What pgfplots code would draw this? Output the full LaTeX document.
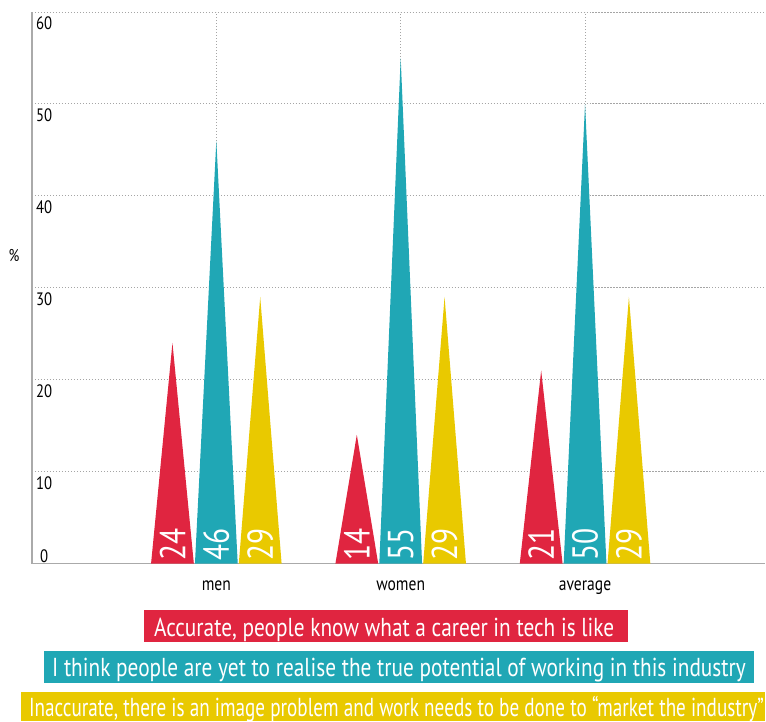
\documentclass[border=0pt]{standalone}
\usepackage{pgfplots}
\pgfplotsset{compat=1.18}
\usepackage{fontspec}
\setmainfont{PT Sans}[FakeStretch=0.82]
\definecolor{cred}{RGB}{224,37,64}
\definecolor{cteal}{RGB}{32,167,181}
\definecolor{cyellow}{RGB}{233,201,0}
\definecolor{cgrid}{RGB}{165,165,165}
\definecolor{caxis}{RGB}{170,170,170}

\begin{document}
\begin{tikzpicture}[x=1pt,y=1pt]
\begin{axis}[
  name=ax,
  scale only axis, width=734pt, height=552pt,
  xmin=-1, xmax=2.978, ymin=0, ymax=60,
  axis x line*=bottom, axis y line*=left,
  axis line style={caxis, line width=1.3pt, -},
  major tick length=0pt,
  xtick={0,1,2}, xticklabels={men,women,average},
  ytick={10,20,30,40,50,60},
  extra y ticks={0},
  extra y tick style={
    yticklabel style={anchor=south west, xshift=4pt, yshift=5pt},
    grid=none},
  xmajorgrids, ymajorgrids,
  grid style={cgrid, line width=0.9pt, dash pattern=on 1.1pt off 1.9pt},
  /pgf/number format/assume math mode=true,
  yticklabel style={anchor=north west, inner sep=0pt, xshift=4pt, yshift=-4.5pt,
    font=\fontsize{18}{20}\selectfont},
  xticklabel style={anchor=base, inner sep=0pt, yshift=-27pt,
    font=\fontsize{19}{22}\selectfont},
  ylabel={\%},
  every axis y label/.style={at={(axis description cs:-0.0245,0.558)},
    anchor=center, font=\fontsize{17}{20}\selectfont},
]
% accurate
\addplot[fill=cred, draw=none] coordinates {(-0.354,0) (-0.238,24) (-0.122,0)} \closedcycle;
\addplot[fill=cred, draw=none] coordinates {(0.646,0) (0.762,14) (0.878,0)} \closedcycle;
\addplot[fill=cred, draw=none] coordinates {(1.646,0) (1.762,21) (1.878,0)} \closedcycle;
% true potential
\addplot[fill=cteal, draw=none] coordinates {(-0.116,0) (0,46) (0.116,0)} \closedcycle;
\addplot[fill=cteal, draw=none] coordinates {(0.884,0) (1,55) (1.116,0)} \closedcycle;
\addplot[fill=cteal, draw=none] coordinates {(1.884,0) (2,50) (2.116,0)} \closedcycle;
% inaccurate
\addplot[fill=cyellow, draw=none] coordinates {(0.122,0) (0.238,29) (0.354,0)} \closedcycle;
\addplot[fill=cyellow, draw=none] coordinates {(1.122,0) (1.238,29) (1.354,0)} \closedcycle;
\addplot[fill=cyellow, draw=none] coordinates {(2.122,0) (2.238,29) (2.354,0)} \closedcycle;
% value labels
\tikzset{vlab/.style={rotate=90, anchor=west, text=white, inner xsep=3pt, inner ysep=0pt,
  font=\fontsize{36}{36}\selectfont}}
\node[vlab] at (axis cs:-0.238,0) {24};
\node[vlab] at (axis cs:0,0) {46};
\node[vlab] at (axis cs:0.238,0) {29};
\node[vlab] at (axis cs:0.762,0) {14};
\node[vlab] at (axis cs:1,0) {55};
\node[vlab] at (axis cs:1.238,0) {29};
\node[vlab] at (axis cs:1.762,0) {21};
\node[vlab] at (axis cs:2,0) {50};
\node[vlab] at (axis cs:2.238,0) {29};
\end{axis}
% page frame and legend, measured from the lower left corner of the page
\begin{scope}[shift={(ax.south west)}, xshift=-32pt, yshift=-158pt]
\path (0,0) rectangle (766,722);
\tikzset{leg/.style={anchor=base west, inner sep=0pt, text=white,
  font=\fontsize{26}{30}\selectfont}}
\fill[cred] (144,79) rectangle (629,111);
\node[leg] at (154,85) {Accurate, people know what a career in tech is like};
\fill[cteal] (44,38) rectangle (755,70);
\node[leg] at (52,45) {I think people are yet to realise the true potential of working in this industry};
\fill[cyellow] (21,0) rectangle (766,29);
\begin{scope}
\clip (0,0) rectangle (766,722);
\node[leg, overlay, xscale=0.9] at (29,5)
  {Inaccurate, there is an image problem and work needs to be done to “market the industry”};
\end{scope}
\end{scope}
\end{tikzpicture}
\end{document}
